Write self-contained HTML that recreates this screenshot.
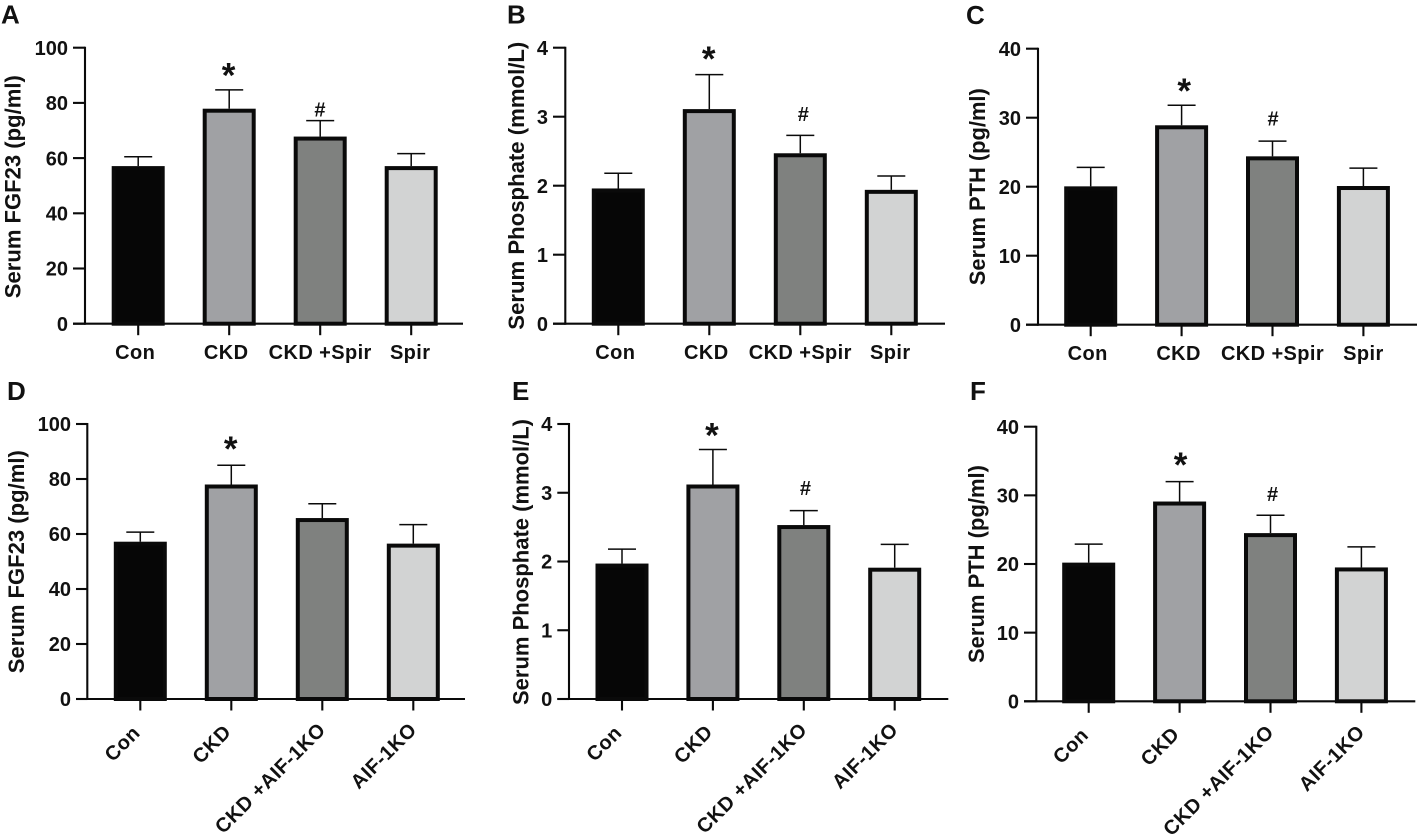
<!DOCTYPE html>
<html lang="en">
<head>
<meta charset="utf-8">
<title>Serum FGF23, Phosphate and PTH bar charts</title>
<style>
html,body{margin:0;padding:0;background:#fff;width:1418px;height:836px;overflow:hidden}
svg{display:block;filter:blur(0.35px)}
text{font-family:"Liberation Sans",sans-serif;font-weight:700;fill:#111}
</style>
</head>
<body>
<svg id="fig" width="1418" height="836" viewBox="0 0 1418 836" xmlns="http://www.w3.org/2000/svg"></svg>
<script>
const spirCategories = ["Con", "CKD", "CKD +Spir", "Spir"];
const aifCategories = ["Con", "CKD", "CKD +AIF-1KO", "AIF-1KO"];

const panelAValues = [57.1, 77.9, 67.8, 57.1];
const panelAErrorTops = [60.5, 84.7, 73.6, 61.6];
const panelBValues = [1.96, 3.11, 2.47, 1.94];
const panelBErrorTops = [2.18, 3.61, 2.73, 2.14];
const panelCValues = [20.05, 28.9, 24.4, 20.1];
const panelCErrorTops = [22.8, 31.8, 26.6, 22.7];
const panelDValues = [57.2, 78, 65.8, 56.5];
const panelDErrorTops = [60.7, 85, 71, 63.4];
const panelEValues = [1.97, 3.12, 2.53, 1.91];
const panelEErrorTops = [2.18, 3.63, 2.74, 2.25];
const panelFValues = [20.2, 29.1, 24.5, 19.5];
const panelFErrorTops = [22.9, 32, 27.1, 22.5];

const fgfTicks = [0, 20, 40, 60, 80, 100];
const phosphateTicks = [0, 1, 2, 3, 4];
const pthTicks = [0, 10, 20, 30, 40];

const panelAMarks = ["", "*", "#", ""];
const panelBMarks = ["", "*", "#", ""];
const panelCMarks = ["", "*", "#", ""];
const panelDMarks = ["", "*", "", ""];
const panelEMarks = ["", "*", "#", ""];
const panelFMarks = ["", "*", "#", ""];

const barFills = ["#060606", "#a0a1a4", "#7f817f", "#d2d3d3"];

const panels = [
  {id:"a", letter:"A", lx:1, ly:23.5, title:"Serum FGF23 (pg/ml)", tx:20.7, tc:186.7, tl:223,
   cats:spirCategories, vals:panelAValues, errs:panelAErrorTops, ticks:fgfTicks, marks:panelAMarks,
   axisX:85, y0:323.7, yTop:47.7, tickLeft:73, xEnd:463, first:138.2, step:91, rotated:false, labelBase:359, labelDx:[-3,-3,0,-1], labelDy:[0,0,0,0],
   starGap:22, hashGap:11.4, starDx:-0.6, hashDx:-0.3},
  {id:"b", letter:"B", lx:507, ly:23.5, title:"Serum Phosphate (mmol/L)", tx:524, tc:185.7, tl:288,
   cats:spirCategories, vals:panelBValues, errs:panelBErrorTops, ticks:phosphateTicks, marks:panelBMarks,
   axisX:565.3, y0:323.7, yTop:47.7, tickLeft:553, xEnd:945, first:618.3, step:91, rotated:false, labelBase:359, labelDx:[-3,-3,0,-1], labelDy:[0,0,0,0],
   starGap:23, hashGap:21.7, starDx:-0.6, hashDx:3},
  {id:"c", letter:"C", lx:966, ly:24, title:"Serum PTH (pg/ml)", tx:985, tc:186.7, tl:197,
   cats:spirCategories, vals:panelCValues, errs:panelCErrorTops, ticks:pthTicks, marks:panelCMarks,
   axisX:1038, y0:324.7, yTop:48.7, tickLeft:1026, xEnd:1417, first:1090.7, step:90.9, rotated:false, labelBase:360, labelDx:[-3,-3,0,0], labelDy:[0,0,0,0],
   starGap:21.7, hashGap:23, starDx:2.6, hashDx:0.6},
  {id:"d", letter:"D", lx:7, ly:400, title:"Serum FGF23 (pg/ml)", tx:24, tc:561.7, tl:223,
   cats:aifCategories, vals:panelDValues, errs:panelDErrorTops, ticks:fgfTicks, marks:panelDMarks,
   axisX:87.3, y0:699, yTop:424, tickLeft:76, xEnd:465, first:140.3, step:91, rotated:true, labelBase:35, labelDx:[1,1,4.5,4.5], labelDy:[0,-1,-3,-3],
   starGap:24, hashGap:22, starDx:-0.6, hashDx:0},
  {id:"e", letter:"E", lx:512, ly:400, title:"Serum Phosphate (mmol/L)", tx:528.3, tc:562, tl:286,
   cats:aifCategories, vals:panelEValues, errs:panelEErrorTops, ticks:phosphateTicks, marks:panelEMarks,
   axisX:569, y0:699, yTop:424, tickLeft:557.3, xEnd:948.3, first:622, step:90.9, rotated:true, labelBase:35, labelDx:[1,1,4.5,4.5], labelDy:[0,-1,-3,-3],
   starGap:21.7, hashGap:22.7, starDx:-1, hashDx:1.6},
  {id:"f", letter:"F", lx:970, ly:400, title:"Serum PTH (pg/ml)", tx:984, tc:564, tl:198,
   cats:aifCategories, vals:panelFValues, errs:panelFErrorTops, ticks:pthTicks, marks:panelFMarks,
   axisX:1036.3, y0:701.3, yTop:426.7, tickLeft:1024, xEnd:1415.3, first:1088.7, step:90.9, rotated:true, labelBase:35, labelDx:[1,1,4.5,4.5], labelDy:[0,-1,-3,-3],
   starGap:24.3, hashGap:21.3, starDx:1, hashDx:2}
];

const NS = "http://www.w3.org/2000/svg";
const INK = "#0a0a0a";
const BAR_W = 53;
const BAR_STROKE = 4;
const AXIS_STROKE = 2.1;
const svg = document.getElementById("fig");

function make(tag, attrs, parent, content) {
  const n = document.createElementNS(NS, tag);
  for (const k in attrs) n.setAttribute(k, attrs[k]);
  if (content !== undefined) n.textContent = content;
  parent.appendChild(n);
  return n;
}

panels.forEach(function (p) {
  const maxTick = p.ticks[p.ticks.length - 1];
  const yScale = function (v) { return p.y0 - (v / maxTick) * (p.y0 - p.yTop); };
  const xScale = function (i) { return p.first + i * p.step; };

  const g = make("g", {}, svg);
  
  

  const letter = make("text", {x:p.lx, y:p.ly, "font-size":26}, g, p.letter);
  
  

  const title = make("text", {
    transform:"translate(" + p.tx + " " + p.tc + ") rotate(-90)",
    "text-anchor":"middle", "font-size":22, textLength:p.tl, lengthAdjust:"spacingAndGlyphs"
  }, g, p.title);
  
  

  p.vals.forEach(function (v, i) {
    const cx = xScale(i);
    const top = yScale(v);
    const errTop = yScale(p.errs[i]);

    const stem = make("line", {x1:cx, x2:cx, y1:top, y2:errTop, stroke:INK, "stroke-width":1.5}, g);
    
    

    const cap = make("line", {x1:cx - 14, x2:cx + 14, y1:errTop, y2:errTop, stroke:INK, "stroke-width":1.5}, g);
    
    

    const bar = make("rect", {
      x:cx - BAR_W / 2 + BAR_STROKE / 2,
      y:top + BAR_STROKE / 2,
      width:BAR_W - BAR_STROKE,
      height:Math.max(0, p.y0 - top - BAR_STROKE / 2),
      fill:barFills[i], stroke:INK, "stroke-width":BAR_STROKE
    }, g);
    
    

    const tick = make("line", {x1:cx, x2:cx, y1:p.y0, y2:p.y0 + 11.5, stroke:INK, "stroke-width":AXIS_STROKE}, g);
    
    

    let label;
    if (p.rotated) {
      const lx = cx + p.labelDx[i];
      const ly = p.y0 + p.labelBase + p.labelDy[i];
      label = make("text", {
        x:lx, y:ly, "text-anchor":"end", "font-size":20,
        transform:"rotate(-45 " + lx + " " + ly + ")", "letter-spacing":"0.5"
      }, g, p.cats[i]);
    } else {
      label = make("text", {
        x:cx + p.labelDx[i], y:p.labelBase, "text-anchor":"middle", "font-size":20, "letter-spacing":"0.4"
      }, g, p.cats[i]);
    }
    
    

    const mark = p.marks[i];
    if (mark === "*") {
      const star = make("text", {
        x:cx + p.starDx, y:errTop - p.starGap + 19.6, "text-anchor":"middle", "font-size":35
      }, g, mark);
      
      
    } else if (mark === "#") {
      const hash = make("text", {
        x:cx + p.hashDx, y:errTop - p.hashGap + 7.2, "text-anchor":"middle", "font-size":20
      }, g, mark);
      
      
    }
  });

  p.ticks.forEach(function (t) {
    const y = yScale(t);
    const tk = make("line", {x1:p.tickLeft, x2:p.axisX, y1:y, y2:y, stroke:INK, "stroke-width":AXIS_STROKE}, g);
    
    

    const tl = make("text", {x:p.tickLeft - 5, y:y + 7.2, "text-anchor":"end", "font-size":20}, g, String(t));
    
    
  });

  const yAxis = make("line", {x1:p.axisX, x2:p.axisX, y1:p.yTop - 1, y2:p.y0 + 1, stroke:INK, "stroke-width":AXIS_STROKE}, g);
  
  

  const xAxis = make("line", {x1:p.tickLeft, x2:p.xEnd, y1:p.y0, y2:p.y0, stroke:INK, "stroke-width":AXIS_STROKE}, g);
  
  
});
</script>
</body>
</html>
